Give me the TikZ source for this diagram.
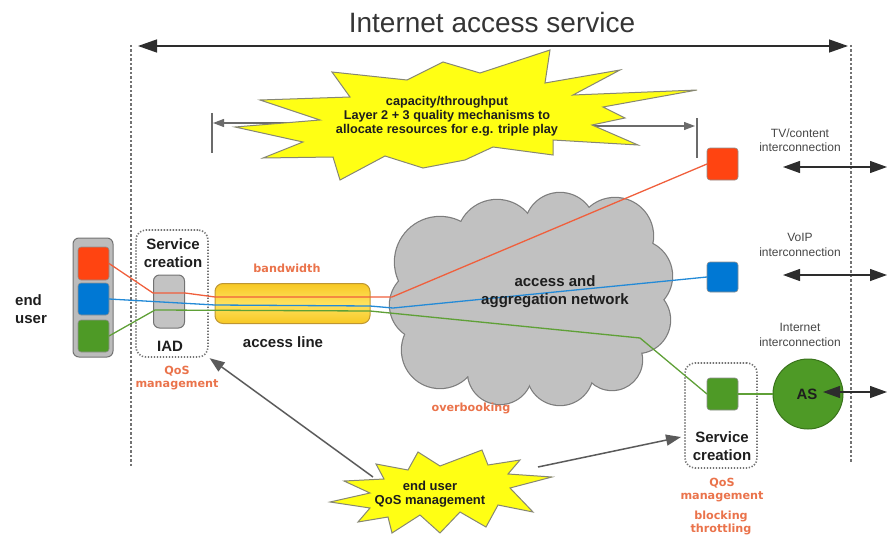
\documentclass[tikz,border=0pt]{standalone}
\usepackage{fontspec}
\setmainfont{Liberation Sans}
\newfontfamily\ofont{DejaVu Sans}
\usetikzlibrary{arrows.meta}
\definecolor{txt}{RGB}{30,30,30}
\definecolor{rtxt}{RGB}{70,70,70}
\definecolor{org}{RGB}{234,115,75}
\definecolor{dotc}{RGB}{115,115,115}
\definecolor{arrc}{RGB}{45,45,45}
\definecolor{pgray}{RGB}{90,90,90}
\definecolor{stary}{RGB}{255,255,20}
\definecolor{starb}{RGB}{135,135,115}
\definecolor{cloudf}{RGB}{193,193,193}
\definecolor{cloudb}{RGB}{125,125,125}
\definecolor{devf}{RGB}{188,188,188}
\definecolor{devb}{RGB}{115,115,115}
\definecolor{cylt}{RGB}{247,200,35}
\definecolor{cylm}{RGB}{255,226,95}
\definecolor{cylb}{RGB}{190,150,50}
\definecolor{sqr}{RGB}{255,68,17}
\definecolor{sqb}{RGB}{0,120,212}
\definecolor{sqg}{RGB}{78,154,38}
\definecolor{lr}{RGB}{240,95,60}
\definecolor{lb}{RGB}{35,138,215}
\definecolor{lg}{RGB}{95,160,55}
\begin{document}
\begin{tikzpicture}[x=1pt,y=-1pt,
  vdot/.style={draw=dotc, line width=1.4pt, dash pattern=on 2.5pt off 2pt},
  bigarrow/.style={draw=arrc, line width=1.3pt, {Triangle[length=19pt,width=13pt]}-{Triangle[length=19pt,width=13pt]}},
  midarrow/.style={draw=arrc, line width=1.3pt, {Triangle[length=17pt,width=12pt]}-{Triangle[length=17pt,width=12pt]}},
  sarrow/.style={draw=pgray!90, line width=1.2pt, -{Triangle[length=11pt,width=8pt]}},
  parrow/.style={draw=pgray, line width=1.5pt, -{Triangle[length=15pt,width=11pt]}},
  starshape/.style={fill=stary, draw=starb, line width=1pt, line join=miter},
  dbox/.style={draw=dotc, line width=1.6pt, dash pattern=on 1.3pt off 1.7pt, rounded corners=10pt, inner sep=0pt, outer sep=0pt},
  sq/.style={draw=devb!80, line width=0.6pt, rounded corners=3pt, minimum width=31pt, minimum height=32pt, inner sep=0pt, outer sep=0pt},
  flow/.style={line width=1.3pt, line join=round},
  lbl/.style={font=\bfseries\fontsize{15}{18}\selectfont, text=txt, align=center, inner sep=0pt},
  olbl/.style={font=\ofont\bfseries\fontsize{11.2}{13}\selectfont, text=org, align=center, inner sep=0pt},
  rlbl/.style={font=\fontsize{12}{14.5}\selectfont, text=rtxt, align=center, inner sep=0pt},
  slbl/.style={font=\bfseries\fontsize{12.7}{14}\selectfont, text=txt, align=center, inner sep=0pt}
]
\useasboundingbox (0,0) rectangle (887,535);

% frame of the service
\coordinate (vL1) at (131,45); \coordinate (vL2) at (131,466);
\coordinate (vR1) at (851,45); \coordinate (vR2) at (851,462);
\draw[vdot] (vL1) -- (vL2);
\draw[vdot] (vR1) -- (vR2);
\node[font=\fontsize{28}{32}\selectfont, text=txt!90, inner sep=0pt] (title) at (492,22) {Internet access service};
\coordinate (tL) at (138,46); \coordinate (tR) at (848,46);
\draw[bigarrow] (tL) -- (tR);

% capacity arrows under the top star
\coordinate (caL0) at (300,123); \coordinate (caL) at (213,123);
\coordinate (caR0) at (580,126); \coordinate (caR) at (695,126);
\coordinate (bL1) at (212,113); \coordinate (bL2) at (212,153);
\coordinate (bR1) at (697,118); \coordinate (bR2) at (697,158);
\draw[sarrow] (caL0) -- (caL);
\draw[sarrow] (caR0) -- (caR);
\draw[draw=pgray!90, line width=1.2pt] (bL1) -- (bL2);
\draw[draw=pgray!90, line width=1.2pt] (bR1) -- (bR2);

% top star
\draw[starshape] (260,100) -- (350,97) -- (332,72) -- (407,80) -- (443,62) -- (480,73) -- (550,50) -- (545,83) -- (620,70) -- (573,95) -- (697,90) -- (603,107) -- (625,118) -- (592,125) -- (638,145) -- (553,140) -- (553,155) -- (493,147) -- (465,160) -- (423,168) -- (385,156) -- (340,180) -- (333,157) -- (263,158) -- (303,142) -- (235,127) -- (320,120) -- cycle;
\node[slbl] (capT) at (447,116) {capacity/throughput\\Layer 2 + 3 quality mechanisms to\\allocate resources for e.g. triple play};

% cloud
\foreach \cx/\cy/\r in {440/262/45, 497/240/40, 560/228/35, 615/236/38, 636/276/36, 637/320/33, 612/360/30, 560/372/33, 500/372/32, 440/350/38, 425/305/35, 540/300/80, 470/315/40}
  \draw[draw=cloudb, line width=2.4pt] (\cx,\cy) circle[radius=\r pt];
\foreach \cx/\cy/\r in {440/262/45, 497/240/40, 560/228/35, 615/236/38, 636/276/36, 637/320/33, 612/360/30, 560/372/33, 500/372/32, 440/350/38, 425/305/35, 540/300/80, 470/315/40}
  \fill[cloudf] (\cx,\cy) circle[radius=\r pt];

% access line
\node[draw=cylb, line width=1pt, rounded corners=8pt, top color=cylt, bottom color=cylt, middle color=cylm, minimum width=155pt, minimum height=40pt, inner sep=0pt, outer sep=0pt] (acc) at (292.5,303.5) {};

% end user device
\node[draw=devb, fill=devf, line width=1pt, rounded corners=6pt, minimum width=40pt, minimum height=119pt, inner sep=0pt, outer sep=0pt] (dev) at (93,297.5) {};
\node[sq, fill=sqr, minimum height=33pt] (uR) at (93.5,263.5) {};
\node[sq, fill=sqb] (uB) at (93.5,299) {};
\node[sq, fill=sqg] (uG) at (93.5,336) {};

% left service creation box and IAD
\node[dbox, minimum width=72pt, minimum height=127pt] (scL) at (172,293.5) {};
\node[draw=devb, fill=devf!90!white, line width=1pt, rounded corners=6pt, minimum width=31pt, minimum height=53pt, inner sep=0pt, outer sep=0pt] (iad) at (169,301.5) {};

% right side devices
\node[sq, fill=sqr] (tvR) at (722.5,164) {};
\node[sq, fill=sqb, minimum height=30pt] (voB) at (722.5,277) {};
\node[dbox, minimum width=72pt, minimum height=105pt] (scR) at (721,415.5) {};
\node[sq, fill=sqg] (inG) at (722.5,394) {};
\node[circle, draw=sqg!75!black, fill=sqg, line width=1pt, minimum size=70pt, inner sep=0pt, outer sep=0pt] (as) at (808,394) {};

% flows
\coordinate (rA) at (153,293); \coordinate (rB) at (185,293); \coordinate (rC) at (215,297); \coordinate (rD) at (392,297);
\coordinate (bA) at (215,305); \coordinate (bB) at (370,306); \coordinate (bC) at (393,308);
\coordinate (gA) at (155,310); \coordinate (gB) at (370,311); \coordinate (gC) at (640,338);
\draw[flow, draw=lr] (uR.east) -- (rA) -- (rB) -- (rC) -- (rD) -- (tvR.west);
\draw[flow, draw=lb] (uB.east) -- (bA) -- (bB) -- (bC) -- (voB.west);
\draw[flow, draw=lg] (uG.east) -- (gA) -- (gB) -- (gC) -- (inG.west);
\draw[flow, draw=lg] (inG.east) -- (as.west);

% labels
\node[lbl, align=left, anchor=west] (eu) at (15,309) {end\\user};
\node[lbl] (scLt) at (173,253) {Service\\creation};
\node[lbl] (iadt) at (170,346) {IAD};
\node[olbl] (qosL) at (177,378) {QoS\\management};
\node[olbl] (bw) at (287,268) {bandwidth};
\node[lbl] (acct) at (283,342) {access line};
\node[lbl] (nett) at (555,292) {access and\\aggregation network};
\node[olbl] (ovb) at (471,408) {overbooking};
\node[lbl] (scRt) at (722,446) {Service\\creation};
\node[olbl] (qosR) at (722,490.5) {QoS\\management};
\node[olbl] (blk) at (721,523) {blocking\\throttling};
\node[lbl] (ast) at (807,394) {AS};
\node[rlbl] (tvt) at (800,140) {TV/content\\interconnection};
\node[rlbl] (vot) at (800,245) {VoIP\\interconnection};
\node[rlbl] (int) at (800,335) {Internet\\interconnection};

% interconnection arrows
\coordinate (tv1) at (783,167); \coordinate (tv2) at (887,167);
\coordinate (vo1) at (783,275); \coordinate (vo2) at (887,275);
\coordinate (in1) at (823,392); \coordinate (in2) at (887,392);
\draw[midarrow] (tv1) -- (tv2);
\draw[midarrow] (vo1) -- (vo2);
\draw[midarrow] (in1) -- (in2);

% bottom star and pointers
\coordinate (bsA) at (373,477); \coordinate (bsB) at (538,467); \coordinate (bsTipR) at (681,437);
\draw[parrow, shorten >=2pt] (bsA) -- (scL.south east);
\draw[parrow] (bsB) -- (bsTipR);
\draw[starshape] (330,502) -- (370,493) -- (344,481) -- (384,479) -- (376,464) -- (408,470) -- (418,452) -- (440,466) -- (482,450) -- (488,465) -- (520,460) -- (508,474) -- (552,477) -- (510,488) -- (533,512) -- (498,505) -- (486,527) -- (460,512) -- (440,533) -- (420,515) -- (392,533) -- (388,517) -- (358,522) -- (370,508) -- cycle;
\node[slbl, font=\bfseries\fontsize{13}{14}\selectfont] (eqos) at (430,494) {end user\\QoS management};
\end{tikzpicture}
\end{document}
